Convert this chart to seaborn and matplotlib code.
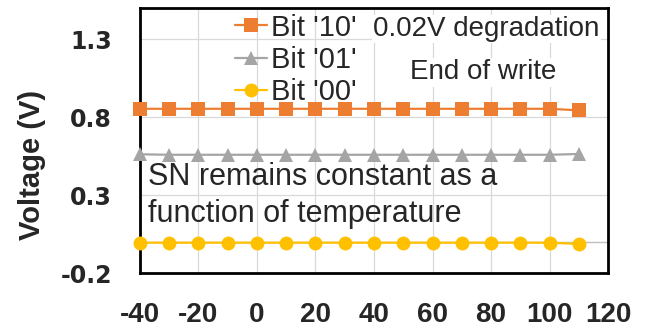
import matplotlib
matplotlib.use("Agg")
import matplotlib.pyplot as plt
import seaborn as sns
import pandas as pd

# Temperature sweep (degC) and storage-node voltage per stored bit pattern
temperature = [-40, -30, -20, -10, 0, 10, 20, 30, 40, 50, 60, 70, 80, 90, 100, 110]
bit_10 = [0.855, 0.855, 0.855, 0.855, 0.855, 0.855, 0.855, 0.855, 0.855, 0.855, 0.855, 0.855, 0.855, 0.855, 0.855, 0.845]
bit_01 = [0.563, 0.560, 0.560, 0.560, 0.560, 0.560, 0.560, 0.560, 0.560, 0.560, 0.560, 0.560, 0.560, 0.560, 0.560, 0.565]
bit_00 = [-0.004, -0.004, -0.004, -0.004, -0.004, -0.004, -0.004, -0.004, -0.004, -0.004, -0.004, -0.004, -0.004, -0.004, -0.004, -0.012]

series_names = ["Bit '10'", "Bit '01'", "Bit '00'"]
series_values = [bit_10, bit_01, bit_00]
series_colors = ["#ED7D31", "#A5A5A5", "#FFC000"]
series_markers = ["s", "^", "o"]
series_msize = [9.5, 10, 10]

x_ticks = [-40, -20, 0, 20, 40, 60, 80, 100, 120]
y_ticks = [-0.2, 0.3, 0.8, 1.3]

sns.set_theme(style="white")
plt.rcParams["font.family"] = ["Liberation Sans", "DejaVu Sans"]

fig, ax = plt.subplots(figsize=(6.51, 3.30), dpi=100)
fig.subplots_adjust(left=0.215, right=0.934, top=0.975, bottom=0.172)

for name, vals, col, mk, ms in zip(series_names, series_values, series_colors,
                                   series_markers, series_msize):
    df = pd.DataFrame({"T": temperature, "V": vals})
    sns.lineplot(data=df, x="T", y="V", ax=ax, color=col, marker=mk,
                 markersize=ms, markeredgewidth=0, linewidth=1.6,
                 label=name, clip_on=False, zorder=4)

ax.set_xlim(-40, 120)
ax.set_ylim(-0.2, 1.5)
ax.set_xticks(x_ticks)
ax.set_yticks(y_ticks)
ax.set_xticklabels([str(t) for t in x_ticks], fontsize=20, fontweight="bold")
ax.set_yticklabels([f"{t:.1f}" for t in y_ticks], fontsize=17, fontweight="bold",
                   family=["DejaVu Sans"])
ax.tick_params(axis="both", length=0)
ax.tick_params(axis="x", pad=21)
ax.tick_params(axis="y", pad=20)

ax.grid(True, color="#d9d9d9", linewidth=0.9, zorder=0)
ax.set_axisbelow(True)
ax.axhline(0, color="#bfbfbf", linewidth=1.0, zorder=1)

for side in ["left", "right", "top", "bottom"]:
    ax.spines[side].set_visible(True)
    ax.spines[side].set_color("black")
    ax.spines[side].set_linewidth(2.0)

ax.set_xlabel("")
ax.set_ylabel("Voltage (V)", fontsize=21, fontweight="bold")
ax.yaxis.set_label_coords(-0.2, 0.41)

leg = ax.legend(loc="upper left", bbox_to_anchor=(0.203, 0.98), frameon=False,
                fontsize=21, handlelength=1.1, handletextpad=0.15,
                labelspacing=0.15, borderpad=0, borderaxespad=0)

txt_box = dict(facecolor="white", edgecolor="none", pad=1)
ax.text(0.498, 0.922, "0.02V degradation", transform=ax.transAxes,
        fontsize=20, ha="left", va="center", bbox=txt_box, zorder=5)
ax.text(0.733, 0.758, "End of write", transform=ax.transAxes,
        fontsize=20, ha="center", va="center", bbox=txt_box, zorder=5)
ax.text(0.017, 0.292, "SN remains constant as a\nfunction of temperature",
        transform=ax.transAxes, fontsize=22, ha="left", va="center",
        linespacing=1.3, zorder=5)

fig.savefig("out.png", dpi=100)
